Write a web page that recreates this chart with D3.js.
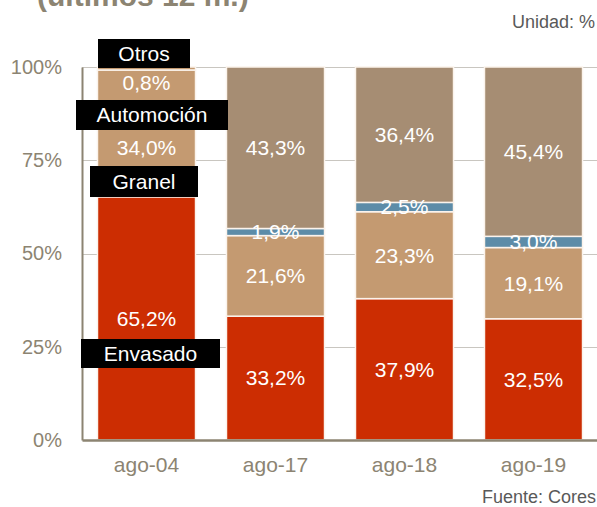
<!DOCTYPE html>
<html><head><meta charset="utf-8">
<script src="https://cdn.jsdelivr.net/npm/d3@7"></script>
<style>
html,body{margin:0;padding:0;background:#fff;}
svg{display:block;font-family:"Liberation Sans",Arial,sans-serif;}
</style></head>
<body><svg id="c" width="597" height="507"></svg>
<script>
const categories = ["ago-04","ago-17","ago-18","ago-19"];
const seriesNames = ["Envasado","Granel","Automoción","Otros"];
const envasado   = [65.2, 33.2, 37.9, 32.5];
const granel     = [34.0, 21.6, 23.3, 19.1];
const automocion = [0.0, 1.9, 2.5, 3.0];
const otros      = [0.8, 43.3, 36.4, 45.4];
const valueLabels = [
  ["65,2%","33,2%","37,9%","32,5%"],
  ["34,0%","21,6%","23,3%","19,1%"],
  ["","1,9%","2,5%","3,0%"],
  ["0,8%","43,3%","36,4%","45,4%"]
];
const yTicks = [0,25,50,75,100];
const yTickLabels = ["0%","25%","50%","75%","100%"];
const annotations = ["Otros","Automoción","Granel","Envasado"];
const title = "(últimos 12 m.)";
const unitText = "Unidad: %";
const sourceText = "Fuente: Cores";

const colors = ["#cc2d02","#c49a71","#5d8ca8","#a68d73"];
const axisColor = "#8c8472";

const svg = d3.select("#c");
const x = d3.scaleBand().domain(categories).range([82,598]).paddingInner(0.24).paddingOuter(0.12);
const y = d3.scaleLinear().domain([0,100]).range([440,67]);

// title (cut off at top, as in the reference)
svg.append("text").attr("x",37).attr("y",6).attr("font-size",30).attr("font-weight","bold")
  .attr("fill","#8c8472").text(title);
svg.append("text").attr("x",595).attr("y",28).attr("text-anchor","end").attr("font-size",18)
  .attr("fill","#595959").text(unitText);
svg.append("text").attr("x",596).attr("y",503).attr("text-anchor","end").attr("font-size",18)
  .attr("fill","#595959").text(sourceText);

// gridlines
svg.append("g").selectAll("line").data(yTicks.filter(d=>d>0)).join("line")
  .attr("x1",82).attr("x2",597).attr("y1",d=>Math.round(y(d))+0.5).attr("y2",d=>Math.round(y(d))+0.5)
  .attr("stroke","#c9c6c0").attr("stroke-width",1);

// stack
const rows = categories.map((c,i)=>({cat:c, Envasado:envasado[i], Granel:granel[i], "Automoción":automocion[i], Otros:otros[i]}));
const stack = d3.stack().keys(seriesNames)(rows);

const g = svg.append("g");
stack.forEach((layer,si)=>{
  g.selectAll(null).data(layer).join("rect")
    .attr("x",d=>x(d.data.cat)).attr("width",x.bandwidth())
    .attr("y",d=>y(Math.min(d[1],100)))
    .attr("height",d=>Math.max(0,y(d[0])-y(Math.min(d[1],100))))
    .attr("fill",(d,i)=> (i===0 && si===3) ? colors[1] : colors[si])
    .attr("stroke","#fbf3ec").attr("stroke-width",1.5);
});

// value labels
const labelShift = {"0-1":14,"0-3":14};
stack.forEach((layer,si)=>{
  layer.forEach((d,i)=>{
    const t = valueLabels[si][i];
    if(!t) return;
    const shift = labelShift[i+"-"+si] || 0;
    svg.append("text").attr("x",x(d.data.cat)+x.bandwidth()/2)
      .attr("y",y((d[0]+d[1])/2)+shift).attr("dy","0.35em")
      .attr("text-anchor","middle").attr("font-size",21).attr("fill","#fff").text(t);
  });
});

// axes
const yAxis = d3.axisLeft(y).tickValues(yTicks).tickFormat((d,i)=>yTickLabels[i]).tickSize(0).tickPadding(20);
const ya = svg.append("g").attr("transform","translate(82,0)").call(yAxis);
ya.select(".domain").attr("stroke",axisColor).attr("stroke-width",2);
ya.selectAll("text").attr("font-size",20).attr("fill",axisColor).attr("font-family","Liberation Sans, Arial, sans-serif");

const xAxis = d3.axisBottom(x).tickSize(0).tickPadding(17);
const xa = svg.append("g").attr("transform","translate(0,440)").call(xAxis);
xa.select(".domain").attr("stroke",axisColor).attr("stroke-width",2.5);
xa.selectAll("text").attr("font-size",21).attr("fill",axisColor).attr("font-family","Liberation Sans, Arial, sans-serif");

// annotation boxes
const boxes = [
  {x0:98,x1:190,y0:39,y1:68},
  {x0:76,x1:228,y0:100,y1:130},
  {x0:90,x1:198,y0:166,y1:197},
  {x0:81,x1:220,y0:339,y1:368}
];
annotations.forEach((a,i)=>{
  const b = boxes[i];
  svg.append("rect").attr("x",b.x0).attr("y",b.y0).attr("width",b.x1-b.x0).attr("height",b.y1-b.y0).attr("fill","#000");
  svg.append("text").attr("x",(b.x0+b.x1)/2).attr("y",(b.y0+b.y1)/2).attr("dy","0.35em")
    .attr("text-anchor","middle").attr("font-size",21).attr("fill","#fff").text(a);
});
</script></body></html>
